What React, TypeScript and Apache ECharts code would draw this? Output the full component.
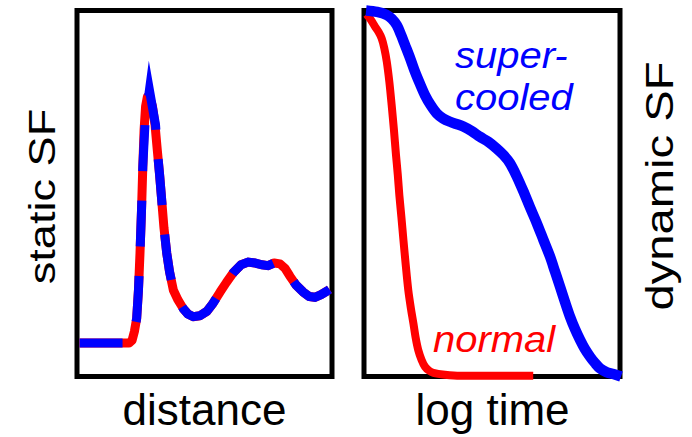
import React, { useEffect, useRef } from "react";
import * as echarts from "echarts";

// ---- Left panel: static structure factor vs distance ----
const staticDistanceNormal = [0.1, 1.88, 2.04, 2.16, 2.25, 2.34, 2.41, 2.47, 2.53, 2.58, 2.63, 2.69, 2.76, 2.86, 2.96, 3.06, 3.15, 3.24, 3.32, 3.41, 3.52, 3.63, 3.78, 3.96, 4.17, 4.35, 4.56, 4.82, 5.09, 5.33, 5.61, 5.86, 6.13, 6.43, 6.71, 6.98, 7.25, 7.49, 7.73, 7.96, 8.16, 8.35, 8.59, 8.87, 9.1, 9.33, 9.57, 9.8, 9.9];
const staticSFNormal = [0, 0, 0, 0.03, 0.13, 0.28, 0.6, 1.02, 1.51, 2.0, 2.42, 2.69, 2.8, 2.78, 2.69, 2.48, 2.19, 1.91, 1.63, 1.31, 1.02, 0.81, 0.6, 0.49, 0.39, 0.33, 0.3, 0.31, 0.36, 0.45, 0.58, 0.69, 0.8, 0.89, 0.92, 0.91, 0.89, 0.88, 0.91, 0.9, 0.85, 0.76, 0.66, 0.58, 0.53, 0.52, 0.55, 0.59, 0.61];
const staticDistanceSuper = [0.1, 1.88, 2.04, 2.16, 2.25, 2.34, 2.41, 2.47, 2.53, 2.58, 2.67, 2.84, 3.08, 3.15, 3.24, 3.32, 3.41, 3.52, 3.63, 3.78, 3.96, 4.17, 4.35, 4.56, 4.82, 5.09, 5.33, 5.61, 5.86, 6.13, 6.43, 6.71, 6.98, 7.25, 7.49, 7.73, 7.96, 8.16, 8.35, 8.59, 8.87, 9.1, 9.33, 9.57, 9.8, 9.9];
const staticSFSuper = [0, 0, 0, 0.03, 0.13, 0.28, 0.6, 1.02, 1.51, 2.0, 2.51, 2.875, 2.48, 2.19, 1.91, 1.63, 1.31, 1.02, 0.81, 0.6, 0.49, 0.39, 0.33, 0.3, 0.31, 0.36, 0.45, 0.58, 0.69, 0.8, 0.89, 0.92, 0.91, 0.89, 0.88, 0.91, 0.9, 0.85, 0.76, 0.66, 0.58, 0.53, 0.52, 0.55, 0.59, 0.61];

// ---- Right panel: dynamic structure factor vs log time ----
const logTimeNormal = [0.1, 0.2, 0.31, 0.43, 0.57, 0.69, 0.79, 0.89, 0.99, 1.08, 1.17, 1.25, 1.32, 1.38, 1.46, 1.54, 1.63, 1.73, 1.83, 1.93, 2.02, 2.12, 2.25, 2.38, 2.54, 2.71, 3.16, 3.75, 6.61];
const dynamicSFNormal = [0.99, 0.981, 0.97, 0.956, 0.941, 0.924, 0.898, 0.86, 0.805, 0.742, 0.673, 0.605, 0.551, 0.496, 0.436, 0.373, 0.305, 0.236, 0.187, 0.145, 0.105, 0.072, 0.045, 0.027, 0.016, 0.01, 0.005, 0.002, 0.002];
const logTimeSuper = [0.08, 0.51, 0.89, 1.09, 1.28, 1.45, 1.6, 1.8, 1.99, 2.19, 2.38, 2.6, 2.84, 3.09, 3.36, 3.61, 3.88, 4.2, 4.53, 4.86, 5.18, 5.45, 5.7, 5.96, 6.22, 6.48, 6.75, 7.01, 7.27, 7.46, 7.66, 7.85, 8.05, 8.24, 8.44, 8.63, 8.83, 9.02, 9.22, 9.47, 9.74, 10.04];
const dynamicSFSuper = [1.0, 0.996, 0.988, 0.977, 0.96, 0.933, 0.906, 0.87, 0.833, 0.799, 0.769, 0.742, 0.719, 0.705, 0.696, 0.69, 0.683, 0.671, 0.655, 0.641, 0.623, 0.605, 0.583, 0.548, 0.507, 0.463, 0.419, 0.373, 0.327, 0.287, 0.245, 0.204, 0.163, 0.13, 0.1, 0.075, 0.054, 0.037, 0.022, 0.012, 0.007, 0.0];

// ---- Texts ----
const xLabelLeft = "distance";
const xLabelRight = "log time";
const yLabelLeft = "static SF";
const yLabelRight = "dynamic SF";
const superLabel1 = "super-";
const superLabel2 = "cooled";
const normalLabel = "normal";

const RED = "#ff0000";
const BLUE = "#0000ff";
const FONT = '"Liberation Sans", Arial, Helvetica, sans-serif';

const zip = (xs: number[], ys: number[]) => xs.map((x, i) => [x, ys[i]]);

function textEl(text: string, x: number, y: number, size: number, opts: any = {}) {
  const align = opts.align || "center";
  return {
    type: "text",
    x,
    y,
    rotation: opts.rotation || 0,
    scaleX: opts.scaleX || 1,
    scaleY: 1,
    silent: true,
    z: 100,
    style: {
      text,
      font: `${opts.italic ? "italic " : ""}${size}px ${FONT}`,
      fill: opts.color || "#000",
      textAlign: align,
      align,
      textVerticalAlign: "middle",
      verticalAlign: "middle",
    },
  };
}

export default function App() {
  const ref = useRef<HTMLDivElement>(null);
  useEffect(() => {
    if (!ref.current) return;
    const chart = echarts.init(ref.current, undefined, { renderer: "svg" });
    const gridCommon = {
      show: true,
      borderColor: "#000",
      borderWidth: 5,
      backgroundColor: "transparent",
      containLabel: false,
    };
    const lineCommon = {
      type: "line",
      showSymbol: false,
      symbol: "none",
      clip: false,
      silent: true,
    };
    chart.setOption({
      animation: false,
      backgroundColor: "#fff",
      grid: [
        { ...gridCommon, left: 77, top: 10.5, width: 255, height: 366 },
        { ...gridCommon, left: 364, top: 10.5, width: 256, height: 366 },
      ],
      xAxis: [
        { type: "value", gridIndex: 0, min: 0, max: 10, show: false },
        { type: "value", gridIndex: 1, min: 0, max: 10, show: false },
      ],
      yAxis: [
        { type: "value", gridIndex: 0, min: -0.38, max: 3.78, show: false },
        { type: "value", gridIndex: 1, min: 0, max: 1, show: false },
      ],
      series: [
        {
          ...lineCommon,
          name: "static normal",
          xAxisIndex: 0,
          yAxisIndex: 0,
          z: 3,
          data: zip(staticDistanceNormal, staticSFNormal),
          lineStyle: { color: RED, width: 9, join: "round", cap: "butt" },
        },
        {
          ...lineCommon,
          name: "static supercooled",
          xAxisIndex: 0,
          yAxisIndex: 0,
          z: 4,
          data: zip(staticDistanceSuper, staticSFSuper),
          lineStyle: {
            color: BLUE,
            width: 9,
            type: [46, 29.5],
            dashOffset: 3,
            join: "miter",
            miterLimit: 20,
            cap: "butt",
          },
        },
        {
          ...lineCommon,
          name: "dynamic normal",
          xAxisIndex: 1,
          yAxisIndex: 1,
          z: 3,
          smooth: 0.3,
          data: zip(logTimeNormal, dynamicSFNormal),
          lineStyle: { color: RED, width: 8, join: "round", cap: "butt" },
        },
        {
          ...lineCommon,
          name: "dynamic supercooled",
          xAxisIndex: 1,
          yAxisIndex: 1,
          z: 4,
          smooth: 0.3,
          data: zip(logTimeSuper, dynamicSFSuper),
          lineStyle: { color: BLUE, width: 10.5, join: "round", cap: "butt" },
        },
      ],
      graphic: [
        textEl(xLabelLeft, 204.5, 409, 44),
        textEl(xLabelRight, 492.5, 409, 44),
        textEl(yLabelLeft, 42, 196.5, 37, { rotation: Math.PI / 2, scaleX: 1.22 }),
        textEl(yLabelRight, 659.5, 186, 39, { rotation: Math.PI / 2, scaleX: 1.21 }),
        textEl(superLabel1, 455, 55.3, 37, { align: "left", italic: true, color: BLUE, scaleX: 1.08 }),
        textEl(superLabel2, 455, 97, 37, { align: "left", italic: true, color: BLUE, scaleX: 1.08 }),
        textEl(normalLabel, 433, 338.7, 37, { align: "left", italic: true, color: RED, scaleX: 1.08 }),
      ],
    });
    return () => chart.dispose();
  }, []);
  return (
    <div
      ref={ref}
      style={{ position: "absolute", left: 0, top: 0, width: 692, height: 437, background: "#fff" }}
    />
  );
}
